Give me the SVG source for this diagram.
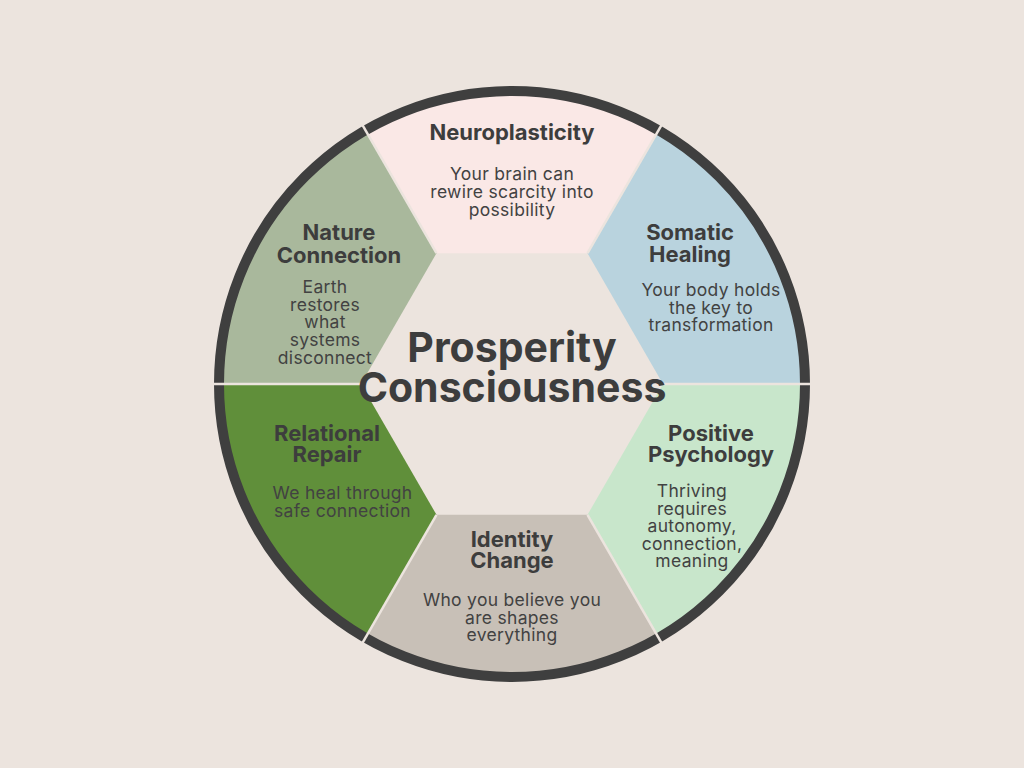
<svg xmlns="http://www.w3.org/2000/svg" width="1024" height="768" viewBox="0 0 1024 768">
<style>
.t{font-family:Inter,"Noto Sans",sans-serif;font-weight:700;font-size:22px;fill:#3d3d3d;text-anchor:middle}
.b{font-family:Inter,"Noto Sans",sans-serif;font-weight:400;font-size:17.5px;letter-spacing:0.3px;fill:#424242;text-anchor:middle}
.c{font-family:Inter,"Noto Sans",sans-serif;font-weight:700;font-size:41px;fill:#3d3d3d;text-anchor:middle}
.sep{stroke:#ECE4DE;stroke-width:2.5}
</style>
<rect width="1024" height="768" fill="#ECE4DE"/>
<g id="neuroplasticity">
<path d="M436.5,253.2 L587.5,253.2 L658.5,130.3 A293,293 0 0 0 365.5,130.3 Z" fill="#FAE8E6"/>
<text class="t" x="512" y="140">Neuroplasticity</text>
<text class="b" x="512" y="180">Your brain can</text>
<text class="b" x="512" y="198">rewire scarcity into</text>
<text class="b" x="512" y="215.5">possibility</text>
</g>
<g id="somatic">
<path d="M587.5,253.2 L663,384 L805,384 A293,293 0 0 0 658.5,130.3 Z" fill="#B9D3DE"/>
<text class="t" x="690" y="240">Somatic</text>
<text class="t" x="690" y="262">Healing</text>
<text class="b" x="711" y="296">Your body holds</text>
<text class="b" x="711" y="313.5">the key to</text>
<text class="b" x="711" y="331">transformation</text>
</g>
<g id="positive">
<path d="M663,384 L587.5,514.8 L658.5,637.7 A293,293 0 0 0 805,384 Z" fill="#C8E6CB"/>
<text class="t" x="711" y="441">Positive</text>
<text class="t" x="711" y="462">Psychology</text>
<text class="b" x="692" y="497">Thriving</text>
<text class="b" x="692" y="514.5">requires</text>
<text class="b" x="692" y="532">autonomy,</text>
<text class="b" x="692" y="549.5">connection,</text>
<text class="b" x="692" y="567">meaning</text>
</g>
<g id="identity">
<path d="M587.5,514.8 L436.5,514.8 L365.5,637.7 A293,293 0 0 0 658.5,637.7 Z" fill="#C8C0B7"/>
<text class="t" x="512" y="547">Identity</text>
<text class="t" x="512" y="568">Change</text>
<text class="b" x="512" y="606">Who you believe you</text>
<text class="b" x="512" y="623.5">are shapes</text>
<text class="b" x="512" y="641">everything</text>
</g>
<g id="relational">
<path d="M436.5,514.8 L361,384 L219,384 A293,293 0 0 0 365.5,637.7 Z" fill="#608F3A"/>
<text class="t" x="327" y="441">Relational</text>
<text class="t" x="327" y="462">Repair</text>
<text class="b" x="342.5" y="499">We heal through</text>
<text class="b" x="342.5" y="517">safe connection</text>
</g>
<g id="nature">
<path d="M361,384 L436.5,253.2 L365.5,130.3 A293,293 0 0 0 219,384 Z" fill="#A9B89C"/>
<text class="t" x="339" y="240">Nature</text>
<text class="t" x="339" y="263">Connection</text>
<text class="b" x="325" y="293">Earth</text>
<text class="b" x="325" y="310.5">restores</text>
<text class="b" x="325" y="328">what</text>
<text class="b" x="325" y="346">systems</text>
<text class="b" x="325" y="364">disconnect</text>
</g>
<g id="connectors">
<circle cx="512" cy="384" r="293" fill="none" stroke="#3F3F3F" stroke-width="10"/>
<line class="sep" x1="436.5" y1="253.2" x2="361.5" y2="123.3"/>
<line class="sep" x1="587.5" y1="253.2" x2="662.5" y2="123.3"/>
<line class="sep" x1="663" y1="384" x2="813" y2="384"/>
<line class="sep" x1="587.5" y1="514.8" x2="662.5" y2="644.7"/>
<line class="sep" x1="436.5" y1="514.8" x2="361.5" y2="644.7"/>
<line class="sep" x1="361" y1="384" x2="211" y2="384"/>
</g>
<g id="center">
<text class="c" x="512" y="362">Prosperity</text>
<text class="c" x="512" y="402">Consciousness</text>
</g>
</svg>
